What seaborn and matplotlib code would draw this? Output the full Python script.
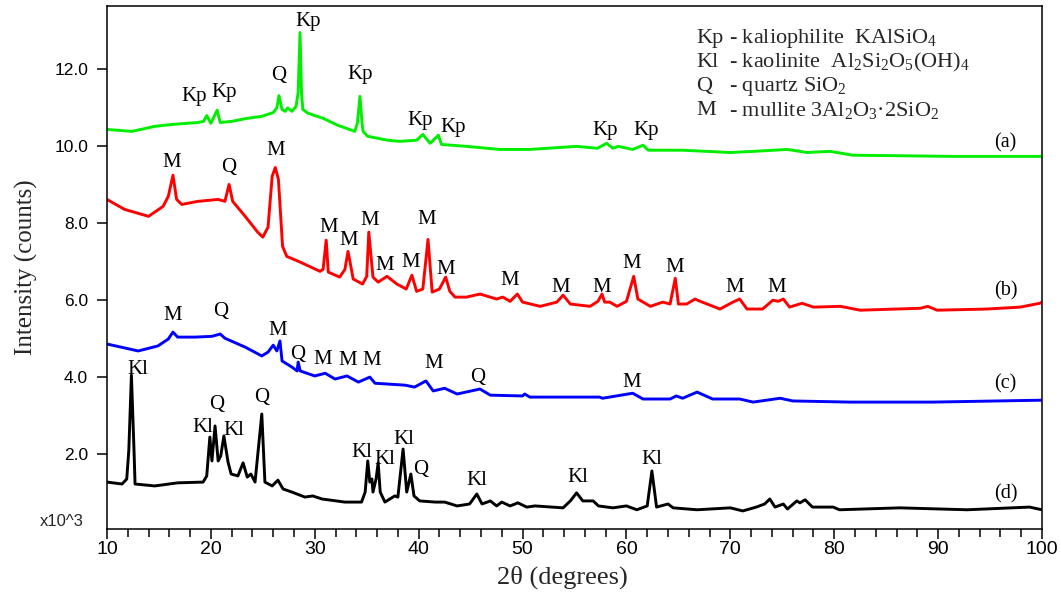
import matplotlib
matplotlib.use("Agg")
import matplotlib.pyplot as plt
import seaborn as sns
import pandas as pd
from matplotlib.ticker import MultipleLocator, FormatStrFormatter

# ---------------- data (x10^3 counts) ----------------
a_x = [10.0, 12.4, 14.6, 16.25, 18.75, 19.3, 19.6, 20.0, 20.6, 20.9, 22.0, 23.5, 24.9, 26.0, 26.35,
       26.55, 26.85, 27.15, 27.4, 27.8, 28.2, 28.4, 28.58, 28.72, 28.85, 29.35, 30.8, 32.2, 33.85, 34.1,
       34.35, 34.55, 34.65, 35.1, 37.0, 38.2, 39.8, 40.4, 41.1, 41.9, 42.2, 44.6, 47.8, 50.7, 55.2,
       57.2, 58.1, 58.7, 59.2, 60.6, 61.6, 62.1, 65.4, 70.0, 72.2, 75.5, 77.4, 79.6, 81.8, 91.4, 100.0]
a_y = [10.44, 10.39, 10.52, 10.57, 10.62, 10.65, 10.80, 10.60, 10.94, 10.62, 10.65, 10.73, 10.78, 10.88, 11.00,
       11.32, 10.96, 10.91, 11.00, 10.91, 11.04, 11.40, 12.96, 11.40, 10.96, 10.86, 10.73, 10.55, 10.39, 10.60,
       11.30, 10.60, 10.39, 10.26, 10.16, 10.13, 10.16, 10.31, 10.08, 10.29, 10.05, 10.00, 9.92, 9.92, 10.00,
       9.95, 10.08, 9.95, 10.00, 9.92, 10.03, 9.90, 9.90, 9.84, 9.87, 9.92, 9.84, 9.87, 9.77, 9.74, 9.74]

b_x = [10.0, 11.7, 14.0, 15.4, 15.9, 16.35, 16.7, 17.2, 18.75, 20.7, 21.35, 21.75, 22.1, 23.3, 24.5,
       25.0, 25.5, 25.9, 26.2, 26.5, 26.9, 27.3, 28.6, 30.5, 30.8, 31.1, 31.3, 32.4, 32.9, 33.2,
       33.7, 34.6, 35.0, 35.2, 35.6, 36.1, 36.95, 37.9, 38.8, 39.35, 39.8, 40.4, 40.9, 41.3, 42.0,
       42.6, 43.0, 43.5, 44.6, 45.9, 47.5, 48.1, 48.8, 49.5, 50.0, 51.7, 53.3, 53.9, 54.6, 56.5,
       57.25, 57.65, 57.9, 58.4, 59.1, 60.0, 60.7, 61.1, 62.3, 63.5, 64.2, 64.7, 65.0, 65.8, 66.6,
       67.1, 69.0, 70.25, 70.9, 71.6, 73.1, 74.1, 74.6, 75.1, 75.7, 76.9, 78.0, 80.6, 82.5, 88.3,
       89.0, 89.9, 94.7, 97.9, 99.8, 100.0]
b_y = [8.62, 8.36, 8.18, 8.44, 8.70, 9.25, 8.62, 8.49, 8.57, 8.62, 8.57, 9.01, 8.57, 8.18, 7.77,
       7.64, 7.90, 9.22, 9.45, 9.14, 7.40, 7.14, 6.99, 6.75, 6.80, 7.56, 6.73, 6.60, 6.80, 7.27,
       6.55, 6.42, 6.62, 7.77, 6.60, 6.47, 6.62, 6.42, 6.29, 6.65, 6.23, 6.29, 7.58, 6.21, 6.29,
       6.60, 6.23, 6.08, 6.08, 6.16, 6.03, 6.08, 5.97, 6.16, 5.95, 5.84, 5.95, 6.13, 5.90, 5.84,
       5.97, 6.16, 5.95, 5.95, 5.84, 5.97, 6.62, 6.03, 5.84, 5.95, 5.90, 6.57, 5.90, 5.90, 6.03,
       5.97, 5.77, 5.95, 6.03, 5.77, 5.77, 6.00, 5.97, 6.03, 5.82, 5.92, 5.82, 5.84, 5.74, 5.79,
       5.84, 5.74, 5.77, 5.82, 5.92, 5.95]

c_x = [10.0, 13.0, 14.9, 15.9, 16.35, 16.8, 18.5, 20.1, 20.9, 21.35, 23.3, 24.9, 25.5, 26.0, 26.35,
       26.65, 26.85, 27.8, 28.3, 28.4, 28.6, 30.0, 31.0, 31.95, 33.1, 34.2, 35.3, 35.8, 38.7, 39.6,
       40.7, 41.4, 42.5, 43.7, 45.9, 46.9, 50.0, 50.2, 50.7, 53.9, 57.4, 57.7, 60.6, 61.6, 64.2,
       64.8, 65.4, 66.8, 68.3, 70.9, 72.2, 74.8, 76.0, 81.5, 89.5, 100.0]
c_y = [4.86, 4.68, 4.81, 4.99, 5.17, 5.04, 5.04, 5.06, 5.12, 5.01, 4.78, 4.55, 4.65, 4.83, 4.68,
       4.94, 4.42, 4.26, 4.16, 4.39, 4.16, 4.03, 4.10, 3.95, 4.03, 3.87, 4.00, 3.84, 3.79, 3.74,
       3.90, 3.64, 3.71, 3.56, 3.69, 3.53, 3.51, 3.56, 3.48, 3.48, 3.48, 3.45, 3.58, 3.43, 3.43,
       3.51, 3.45, 3.61, 3.43, 3.43, 3.35, 3.45, 3.38, 3.35, 3.35, 3.40]

d_x = [10.0, 11.45, 11.9, 12.1, 12.35, 12.6, 12.7, 14.6, 16.8, 19.25, 19.6, 19.9, 20.1, 20.4, 20.7,
       20.95, 21.25, 21.65, 21.95, 22.6, 23.1, 23.5, 23.85, 24.25, 24.9, 25.2, 25.9, 26.45, 26.95, 27.8,
       29.05, 29.8, 30.7, 32.9, 34.5, 34.85, 35.1, 35.3, 35.5, 35.6, 35.9, 36.1, 36.3, 36.75, 37.7,
       38.0, 38.5, 38.85, 39.25, 39.55, 40.1, 41.6, 42.5, 43.7, 44.9, 45.6, 46.1, 46.9, 47.5, 48.0,
       48.8, 49.55, 50.4, 51.2, 53.9, 54.6, 55.2, 55.8, 56.8, 57.3, 58.7, 60.0, 61.0, 62.0, 62.45,
       62.9, 64.0, 64.5, 66.8, 70.0, 71.2, 72.5, 73.3, 73.8, 74.3, 75.1, 75.5, 76.4, 76.7, 77.2,
       77.9, 79.9, 80.5, 86.3, 92.8, 98.8, 100.0]
d_y = [1.27, 1.22, 1.35, 2.10, 4.05, 2.10, 1.22, 1.17, 1.25, 1.27, 1.43, 2.44, 1.82, 2.73, 1.82,
       1.95, 2.47, 1.79, 1.48, 1.43, 1.77, 1.40, 1.48, 1.27, 3.04, 1.27, 1.17, 1.32, 1.09, 1.01,
       0.88, 0.91, 0.83, 0.75, 0.75, 1.01, 1.82, 1.27, 1.35, 1.01, 1.35, 1.77, 1.01, 0.75, 0.91,
       0.88, 2.13, 1.01, 1.48, 0.91, 0.78, 0.75, 0.75, 0.65, 0.70, 0.96, 0.70, 0.78, 0.65, 0.75,
       0.65, 0.73, 0.62, 0.65, 0.60, 0.78, 0.99, 0.78, 0.78, 0.65, 0.60, 0.65, 0.55, 0.65, 1.56,
       0.62, 0.70, 0.60, 0.55, 0.60, 0.52, 0.62, 0.70, 0.83, 0.62, 0.70, 0.57, 0.78, 0.73, 0.81,
       0.62, 0.62, 0.55, 0.60, 0.55, 0.62, 0.55]

# peak annotations: label, x, y (text centres)
a_lab = ["Kp", "Kp", "Q", "Kp", "Kp", "Kp", "Kp", "Kp", "Kp"]
a_lx = [18.4, 21.3, 26.55, 29.35, 34.35, 40.1, 43.3, 57.9, 61.9]
a_ly = [11.30, 11.40, 11.84, 13.25, 11.87, 10.68, 10.50, 10.42, 10.42]

b_lab = ["M", "Q", "M", "M", "M", "M", "M", "M", "M", "M", "M", "M", "M", "M", "M", "M", "M"]
b_lx = [16.26, 21.75, 26.2, 31.3, 33.3, 35.3, 36.75, 39.2, 40.8, 42.6, 48.8, 53.7, 57.6, 60.5, 64.6, 70.4, 74.5]
b_ly = [9.58, 9.45, 9.90, 7.90, 7.56, 8.08, 6.90, 6.99, 8.10, 6.80, 6.52, 6.34, 6.34, 6.96, 6.86, 6.34, 6.34]

c_lab = ["M", "Q", "M", "Q", "M", "M", "M", "M", "Q", "M"]
c_lx = [16.35, 20.9, 26.45, 28.4, 30.8, 33.2, 35.5, 41.4, 45.7, 60.5]
c_ly = [5.60, 5.71, 5.22, 4.60, 4.47, 4.42, 4.42, 4.36, 4.00, 3.87]

d_lab = ["Kl", "Kl", "Q", "Kl", "Q", "Kl", "Kl", "Kl", "Q", "Kl", "Kl", "Kl"]
d_lx = [13.0, 19.2, 20.6, 22.2, 24.9, 34.5, 36.7, 38.6, 40.2, 45.6, 55.3, 62.45]
d_ly = [4.21, 2.70, 3.30, 2.60, 3.48, 2.03, 1.87, 2.39, 1.61, 1.30, 1.40, 1.87]

panel_labels = ["(a)", "(b)", "(c)", "(d)"]
panel_y = [10.1, 6.23, 3.82, 0.96]

legend_codes = ["Kp", "Kl", "Q", "M"]
legend_texts = ["- kaliophilite  KAlSiO$_4$",
                "- kaolinite  Al$_2$Si$_2$O$_5$(OH)$_4$",
                "- quartz SiO$_2$",
                "- mullite 3Al$_2$O$_3$\u00b72SiO$_2$"]

colors = ["#00ee00", "#ff0000", "#0000ff", "#000000"]

# ---------------- plotting ----------------
sns.set_theme(style="ticks")
plt.rcParams["font.family"] = ["Liberation Serif", "DejaVu Serif"]
plt.rcParams["mathtext.fontset"] = "custom"
plt.rcParams["mathtext.rm"] = "Liberation Serif"
plt.rcParams["mathtext.it"] = "Liberation Serif:italic"
plt.rcParams["ytick.major.pad"] = 6.5
plt.rcParams["ytick.major.size"] = 7
plt.rcParams["ytick.major.width"] = 1.1
plt.rcParams["ytick.left"] = True
plt.rcParams["ytick.direction"] = "out"
plt.rcParams["xtick.major.pad"] = 1.5
plt.rcParams["xtick.major.size"] = 7
plt.rcParams["xtick.minor.size"] = 6
plt.rcParams["xtick.bottom"] = True
plt.rcParams["xtick.direction"] = "out"

fig = plt.figure(figsize=(10.61, 5.94), dpi=100)
ax = fig.add_axes([107 / 1061, 1 - 529 / 594, 935 / 1061, 523 / 594])

series = [(a_x, a_y), (b_x, b_y), (c_x, c_y), (d_x, d_y)]
for (xs, ys), col in zip(series, colors):
    df = pd.DataFrame({"two_theta": xs, "intensity": ys})
    sns.lineplot(data=df, x="two_theta", y="intensity", ax=ax, color=col,
                 linewidth=2.1, sort=False, estimator=None)

for labs, lxs, lys in [(a_lab, a_lx, a_ly), (b_lab, b_lx, b_ly), (c_lab, c_lx, c_ly), (d_lab, d_lx, d_ly)]:
    for t, x, y in zip(labs, lxs, lys):
        ax.text(x, y, t, ha="center", va="center", fontsize=15, color="black")

for t, y in zip(panel_labels, panel_y):
    ax.text(96.5, y, t, ha="center", va="center", fontsize=14.5, color="black")

leg_y0 = 1 - 38 / 594
for i, (code, txt) in enumerate(zip(legend_codes, legend_texts)):
    yy = leg_y0 - i * 24.3 / 594
    fig.text(696 / 1061, yy, code, ha="left", va="center", fontsize=16)
    fig.text(729 / 1061, yy, txt, ha="left", va="center", fontsize=16)

ax.set_xlim(10, 100)
ax.set_ylim(0.05, 13.65)
ax.xaxis.set_major_locator(MultipleLocator(10))
ax.xaxis.set_minor_locator(MultipleLocator(2))
ax.set_yticks([2, 4, 6, 8, 10, 12])
ax.yaxis.set_major_formatter(FormatStrFormatter("%.1f"))

ax.tick_params(axis="x", which="both", direction="out", width=1.1,
               top=False, labelsize=14, colors="black")
ax.tick_params(axis="y", which="major", direction="out", length=7, width=1.1,
               left=True, right=False, labelsize=12.5, pad=6.5, colors="black")
for lab in ax.get_xticklabels() + ax.get_yticklabels():
    lab.set_fontfamily("Liberation Sans")
for sp in ax.spines.values():
    sp.set_visible(True)
    sp.set_linewidth(1.1)
    sp.set_color("black")

ax.set_xlabel("2\u03b8 (degrees)", fontsize=19)
ax.set_ylabel("Intensity (counts)", fontsize=18)
ax.xaxis.set_label_coords(0.487, -0.07)
ax.yaxis.set_label_coords(-0.074, 0.5)

fig.text(40 / 1061, 1 - 522 / 594, "x10^3", ha="left", va="center", fontsize=12,
         family="Liberation Sans")

fig.savefig("out.png", dpi=100)
